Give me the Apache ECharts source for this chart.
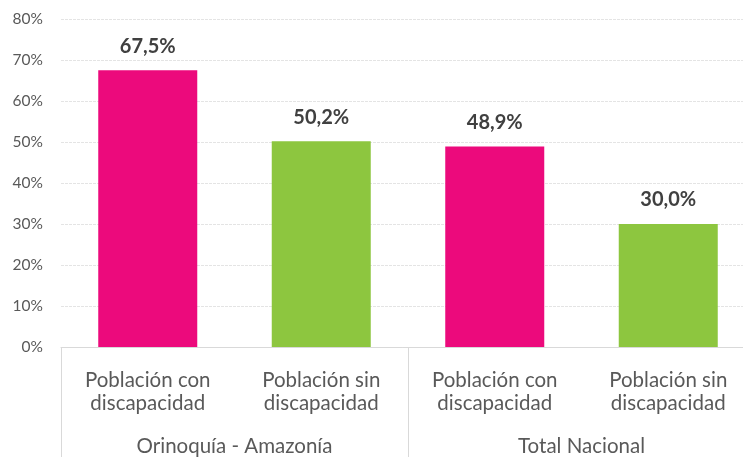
<!DOCTYPE html>
<html>
<head>
<meta charset="utf-8">
<script src="https://cdn.jsdelivr.net/npm/echarts@6/dist/echarts.min.js"></script>
<style>html,body{margin:0;padding:0;background:#fff}#c{width:743px;height:457px}</style>
</head>
<body>
<div id="c"></div>
<script>
const categories = ['Población con\ndiscapacidad', 'Población sin\ndiscapacidad', 'Población con\ndiscapacidad', 'Población sin\ndiscapacidad'];
const groups = ['Orinoquía - Amazonía', 'Total Nacional'];
const values = [67.5, 50.2, 48.9, 30.0];
const barColors = ['#EC0A7C', '#8DC63F', '#EC0A7C', '#8DC63F'];
const yTicks = { min: 0, max: 80, interval: 10 };

const chart = echarts.init(document.getElementById('c'));
const font = 'Lato, "Open Sans", sans-serif';
chart.setOption({
  animation: false,
  grid: { left: 61, top: 19, width: 694, height: 328, outerBoundsMode: 'none', containLabel: false },
  xAxis: [
    {
      type: 'category', data: categories, position: 'bottom',
      axisLine: { show: true, lineStyle: { color: '#d9d9d9', width: 1 } },
      axisTick: { show: false },
      axisLabel: { color: '#595959', fontSize: 20.5, fontFamily: font, margin: 22, lineHeight: 23, interval: 0 }
    },
    {
      type: 'category', data: groups, position: 'bottom',
      axisLine: { show: false },
      axisTick: { show: true, length: 115, lineStyle: { color: '#d9d9d9', width: 1 } },
      axisLabel: { color: '#595959', fontSize: 20.5, fontFamily: font, margin: 89, interval: 0 }
    }
  ],
  yAxis: {
    type: 'value', min: yTicks.min, max: yTicks.max, interval: yTicks.interval,
    axisLine: { show: false }, axisTick: { show: false },
    axisLabel: { formatter: '{value}%', color: '#595959', fontSize: 15.5, fontFamily: font, margin: 18 },
    splitLine: { lineStyle: { color: '#e4e4e4', type: [3, 1] } }
  },
  series: [{
    type: 'bar', xAxisIndex: 0,
    data: values.map((v, i) => ({ value: v, itemStyle: { color: barColors[i] } })),
    barWidth: 99,
    label: {
      show: true, position: 'top', distance: 14,
      formatter: p => p.value.toFixed(1).replace('.', ',') + '%',
      color: '#404040', fontSize: 20, fontWeight: 'bold', fontFamily: font
    }
  }]
});
</script>
</body>
</html>
